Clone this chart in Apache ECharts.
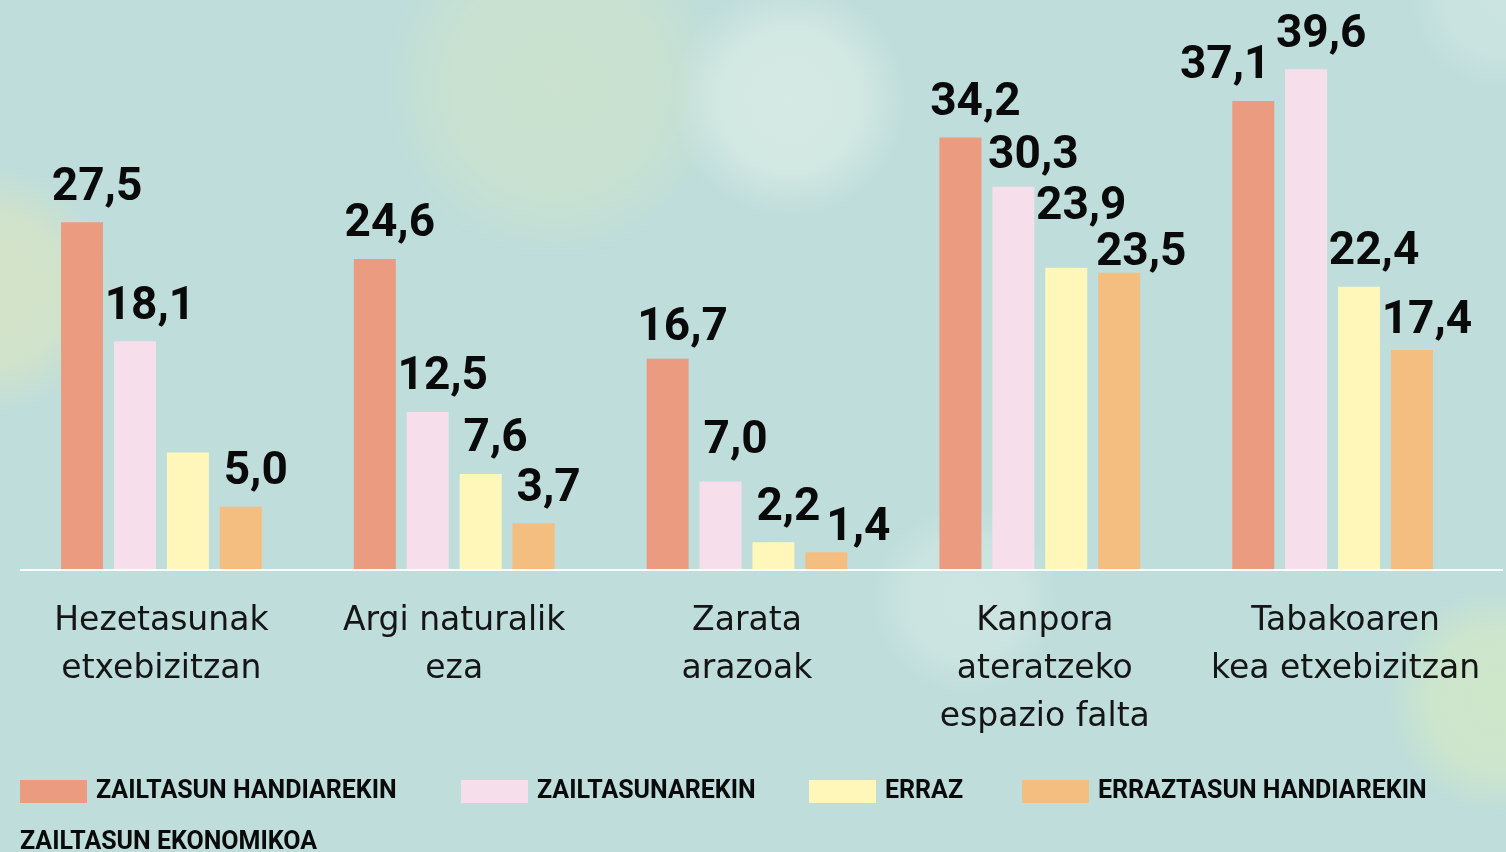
<!DOCTYPE html>
<html>
<head>
<meta charset="utf-8">
<script src="https://cdn.jsdelivr.net/npm/echarts@6/dist/echarts.min.js"></script>
<style>
html,body{margin:0;padding:0;background:#bedddb;}
#chart{width:1506px;height:852px;}
</style>
</head>
<body>
<div id="chart"></div>
<script>
// ---- data ----
const categories = [
  'Hezetasunak\netxebizitzan',
  'Argi naturalik\neza',
  'Zarata\narazoak',
  'Kanpora\nateratzeko\nespazio falta',
  'Tabakoaren\nkea etxebizitzan'
];
const seriesNames = ['ZAILTASUN HANDIAREKIN', 'ZAILTASUNAREKIN', 'ERRAZ', 'ERRAZTASUN HANDIAREKIN'];
const zailtasunHandiarekin = [27.5, 24.6, 16.7, 34.2, 37.1];
const zailtasunarekin      = [18.1, 12.5, 7.0, 30.3, 39.6];
const erraz                = [9.3, 7.6, 2.2, 23.9, 22.4];
const erraztasunHandiarekin= [5.0, 3.7, 1.4, 23.5, 17.4];
const legendTitle = 'ZAILTASUN EKONOMIKOA';

// ---- styling (kept separate from data) ----
const colors = ['#eb9c80', '#f6dfea', '#fff7b9', '#f3be80'];
const legendLefts = [20, 461, 809, 1022];
// label nudges: key "series-index" -> [x, y] offset
const labelNudge = {
  '0-4': [-28, 0], '3-2': [32, 10], '1-3': [20, 4], '3-3': [22, 15],
  '2-3': [15, -26], '3-4': [15, 6], '0-2': [15, 4], '1-2': [15, -6]
};
const hiddenLabels = { '2-0': true };
const catShift = ['a', 'a', 'a', 'b', 'c'];

const allValues = [zailtasunHandiarekin, zailtasunarekin, erraz, erraztasunHandiarekin];

const chart = echarts.init(document.getElementById('chart'));

const valueFont = { fontFamily: 'Roboto', fontWeight: 'bold', fontSize: 46, color: '#0a0a0a' };

const series = allValues.map((vals, s) => ({
  name: seriesNames[s],
  type: 'bar',
  barWidth: 42,
  barGap: '26%',
  itemStyle: { color: colors[s] },
  data: vals.map((v, i) => {
    const key = s + '-' + i;
    const item = { value: v };
    const lbl = {};
    if (hiddenLabels[key]) lbl.show = false;
    if (labelNudge[key] !== undefined) lbl.offset = labelNudge[key];
    if (Object.keys(lbl).length) item.label = lbl;
    return item;
  }),
  label: Object.assign({
    show: true,
    position: 'top',
    distance: 11,
    offset: [15, 0],
    formatter: p => p.value.toFixed(1).replace('.', ',')
  }, valueFont),
  emphasis: { disabled: true },
  z: 3
}));

function blob(cx, cy, r, c, a) {
  return {
    type: 'circle',
    shape: { cx: cx, cy: cy, r: r },
    silent: true,
    z: -10,
    style: {
      fill: {
        type: 'radial', x: 0.5, y: 0.5, r: 0.5,
        colorStops: [
          { offset: 0, color: 'rgba(' + c + ',' + a + ')' },
          { offset: 0.6, color: 'rgba(' + c + ',' + (a * 0.85) + ')' },
          { offset: 1, color: 'rgba(' + c + ',0)' }
        ]
      }
    }
  };
}

const catStyle = { fontFamily: 'DejaVu Sans', fontSize: 33, lineHeight: 48, color: '#151515' };

const option = {
  backgroundColor: '#bedddb',
  animation: false,
  grid: { left: 15, right: 27, top: 1, bottom: 282, containLabel: false },
  xAxis: {
    type: 'category',
    data: categories,
    axisLine: { show: false },
    axisTick: { show: false },
    axisLabel: Object.assign({
      interval: 0,
      margin: 27,
      formatter: (val, idx) => '{' + catShift[idx] + '|' + val + '}',
      rich: {
        a: Object.assign({}, catStyle),
        b: Object.assign({ padding: [0, 0, 0, 10] }, catStyle),
        c: Object.assign({ padding: [0, 0, 0, 26] }, catStyle)
      }
    }, catStyle)
  },
  yAxis: {
    type: 'value',
    min: 0,
    max: 45,
    show: false,
    splitLine: { show: false }
  },
  legend: seriesNames.map((n, s) => ({
    data: [n],
    left: legendLefts[s],
    top: 779,
    padding: 0,
    icon: 'rect',
    itemWidth: 67,
    itemHeight: 23,
    selectedMode: false,
    textStyle: { fontFamily: 'Roboto', fontWeight: 'bold', fontSize: 25, color: '#0a0a0a', padding: [6, 0, 0, 4] }
  })),
  title: {
    text: legendTitle,
    left: 20,
    top: 830,
    padding: 0,
    textStyle: { fontFamily: 'Roboto', fontWeight: 'bold', fontSize: 25, color: '#0a0a0a' }
  },
  graphic: [
    blob(555, 85, 175, '202,226,206', 0.95),
    blob(790, 100, 118, '214,234,228', 0.95),
    blob(-10, 290, 125, '214,228,198', 0.9),
    blob(1500, 700, 115, '208,232,200', 0.9),
    blob(965, 600, 95, '210,232,228', 0.7),
    blob(1500, 0, 90, '210,232,228', 0.6),
    {
      type: 'line',
      silent: true,
      z: 100,
      shape: { x1: 20, y1: 570, x2: 1503, y2: 570 },
      style: { stroke: '#ffffff', lineWidth: 2 }
    }
  ],
  series: series
};
chart.setOption(option);
</script>
</body>
</html>
